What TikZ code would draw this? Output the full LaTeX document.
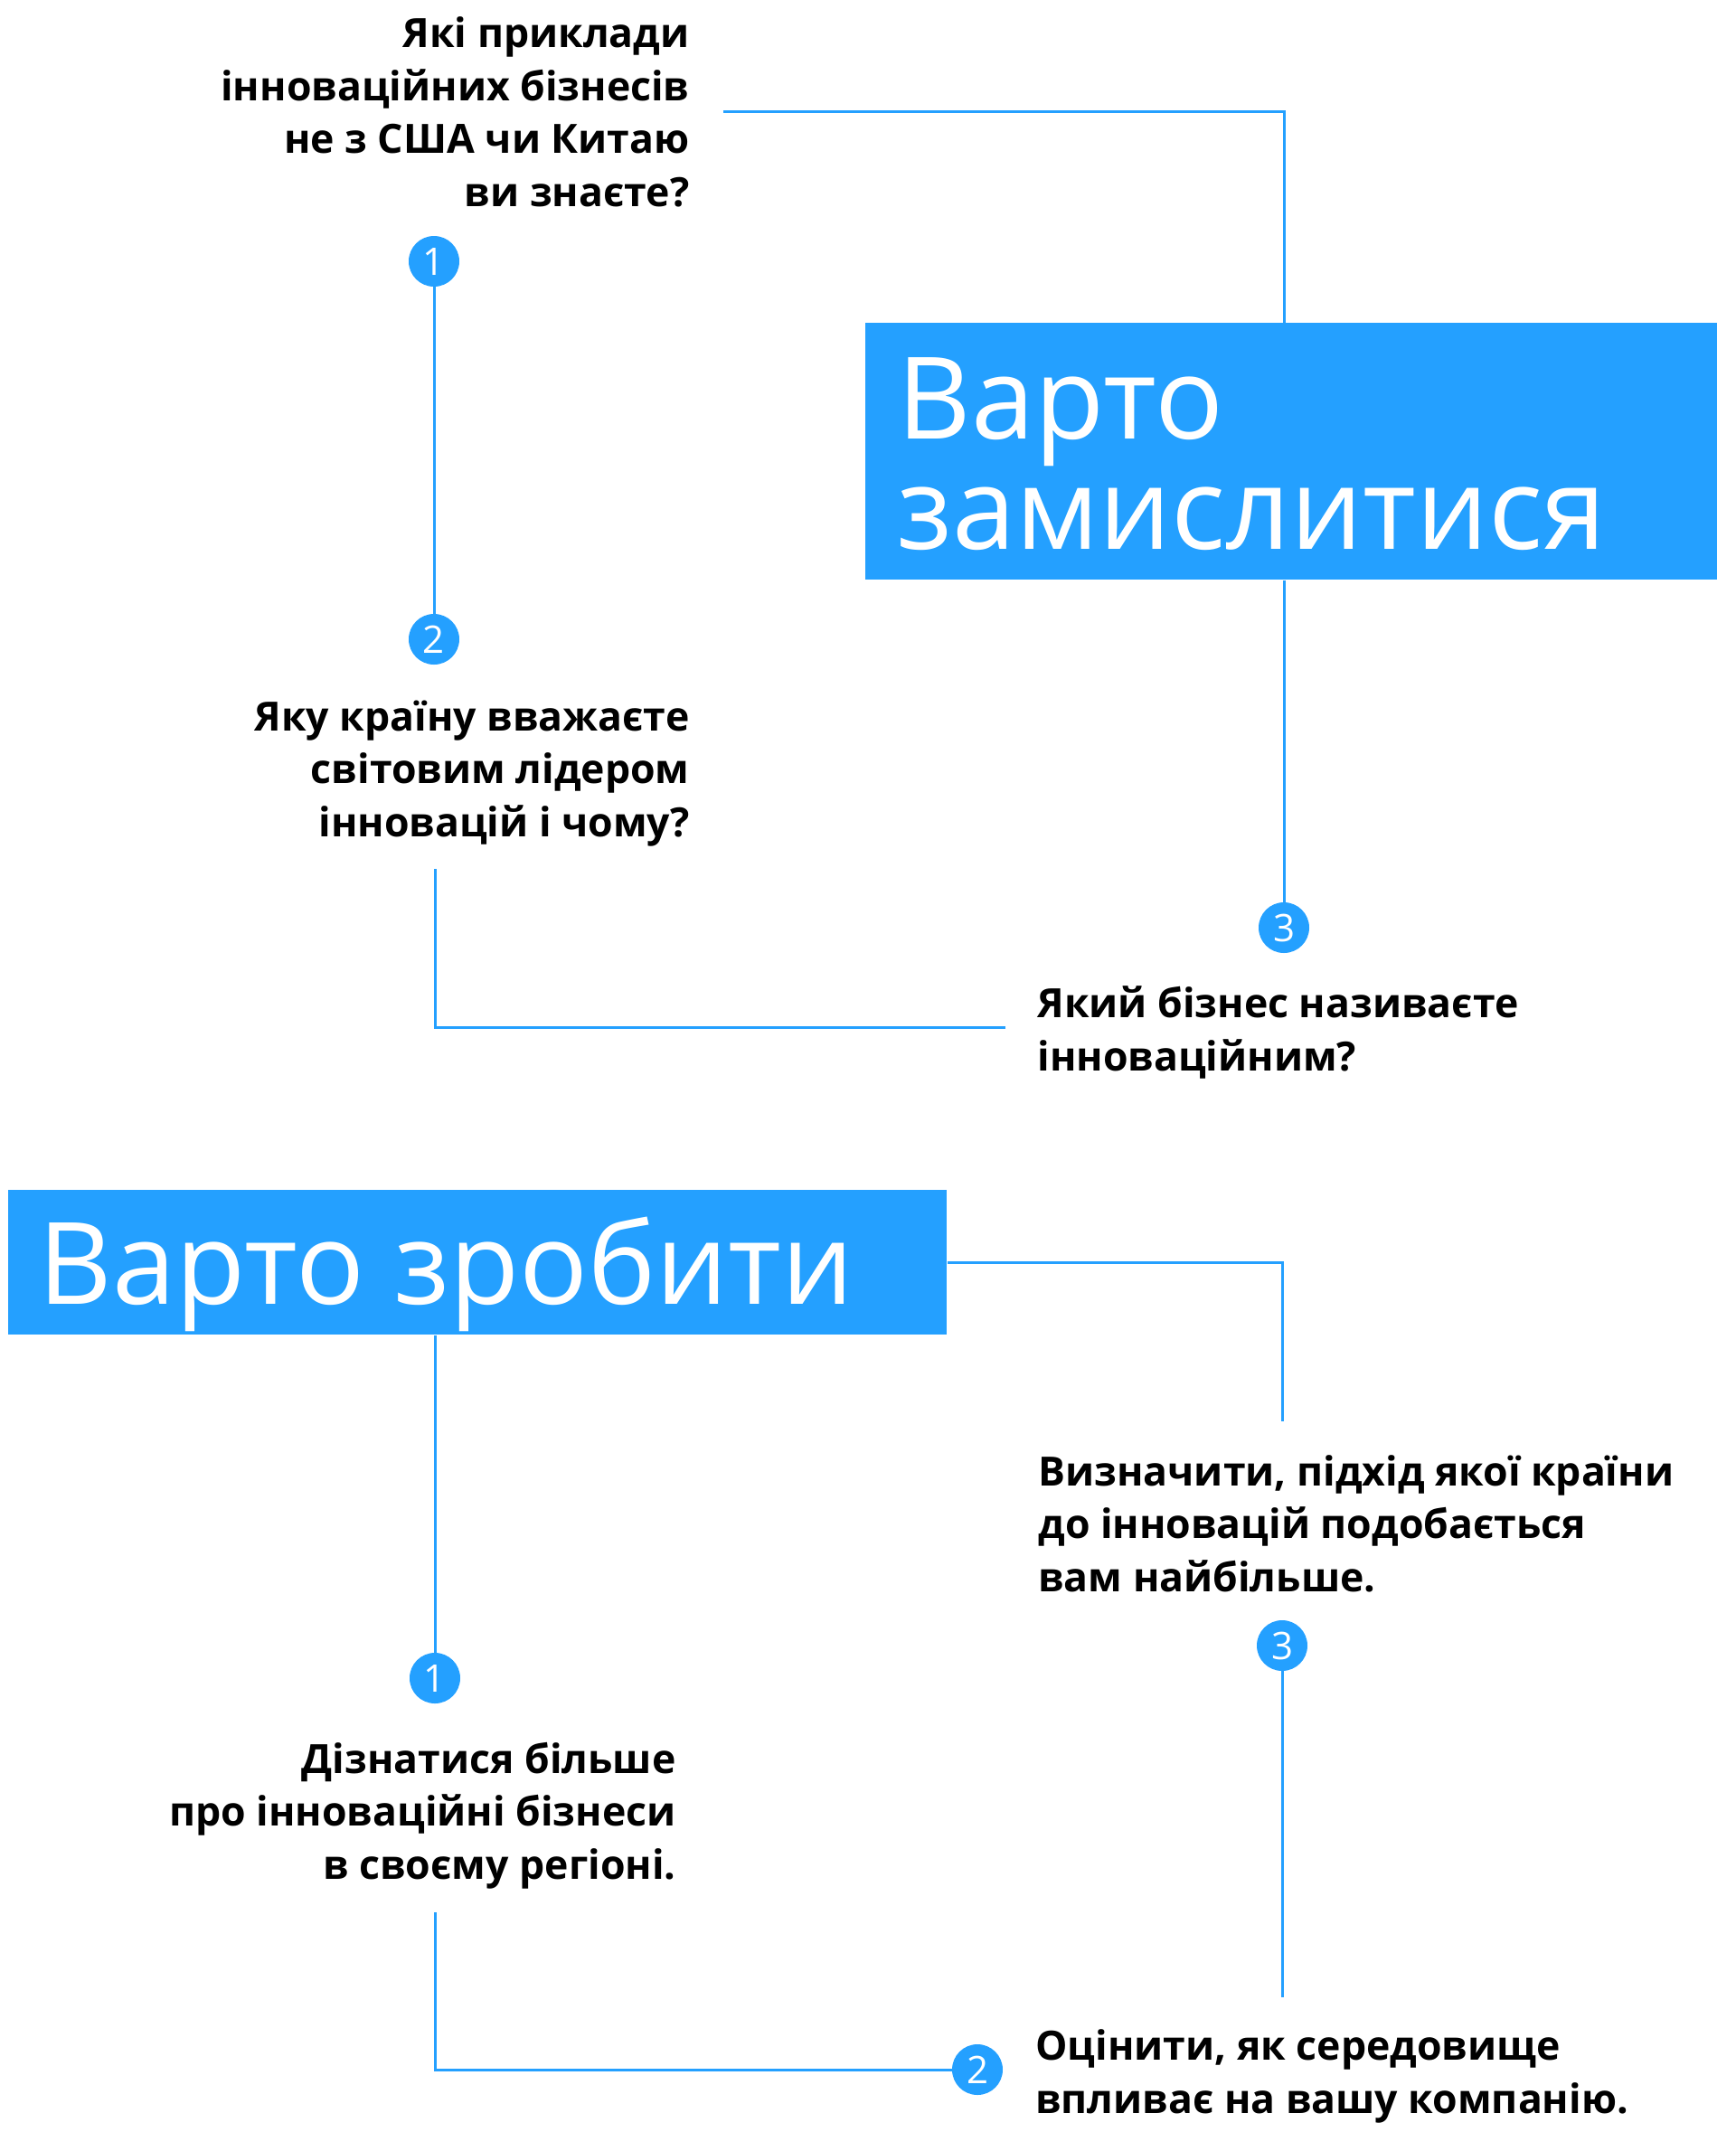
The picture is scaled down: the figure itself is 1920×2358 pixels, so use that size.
\documentclass[tikz,border=0pt]{standalone}
\usepackage{fontspec}
\newfontfamily\bodyfont{Open Sans}
\newfontfamily\titlefont{Open Sans}
\definecolor{myblue}{RGB}{36,160,255}
\begin{document}
\begin{tikzpicture}[x=0.5pt,y=-0.5pt,
  conn/.style={draw=myblue,line width=1.5pt},
  numc/.style={circle,fill=myblue,minimum size=28pt,inner sep=0pt,text=white,font=\titlefont\fontsize{21}{21}\selectfont},
  qleft/.style={inner sep=0pt,anchor=base west,align=left,font=\bodyfont\bfseries\fontsize{22.3}{29.25}\selectfont},
  qright/.style={inner sep=0pt,anchor=base east,align=right,font=\bodyfont\bfseries\fontsize{22.3}{29.25}\selectfont},
  titlebox/.style={fill=myblue,inner sep=0pt,anchor=north west},
  ttext/.style={text=white,inner sep=0pt,anchor=base west,align=left,font=\titlefont\fontsize{63}{61}\selectfont}]
\useasboundingbox[fill=white] (0,0) rectangle (1920,2358);

% top section (base anchors refer to the last line of each text)
\node[titlebox,minimum width=471pt,minimum height=142pt] (box1) at (957,357) {};
\node[ttext] (title1) at (992,607) {Варто\\замислитися};
\node[qright] (q1) at (763,228) {Які приклади\\інноваційних бізнесів\\не з США чи Китаю\\ви знаєте?};
\node[qright] (q2) at (763,925) {Яку країну вважаєте\\світовим лідером\\інновацій і чому?};
\node[qleft] (q3) at (1147,1184) {Який бізнес називаєте\\інноваційним?};
\node[numc] (n1a) at (480,289) {1};
\node[numc] (n2a) at (480,707) {2};
\node[numc] (n3a) at (1420,1026) {3};
\coordinate (c1s) at (800,123);
\coordinate (c2s) at (481,961);
\coordinate (c2e) at (1112,1136);

\draw[conn] (c1s) -| (box1.north -| n3a);
\draw[conn] (box1.south -| n3a) -- (n3a);
\draw[conn] (n1a) -- (n2a);
\draw[conn] (c2s) |- (c2e);

% bottom section
\node[titlebox,minimum width=519pt,minimum height=80pt] (box2) at (9,1316) {};
\node[ttext] (title2) at (42,1442) {Варто зробити};
\node[qleft] (q4) at (1148,1760) {Визначити, підхід якої країни\\до інновацій подобається\\вам найбільше.};
\node[qright] (q5) at (748,2078) {Дізнатися більше\\про інноваційні бізнеси\\в своєму регіоні.};
\node[qleft] (q6) at (1145,2337) {Оцінити, як середовище\\впливає на вашу компанію.};
\node[numc] (n1b) at (481,1856) {1};
\node[numc] (n3b) at (1418,1820) {3};
\node[numc] (n2b) at (1081,2289) {2};
\coordinate (c4e) at (1418,1572);
\coordinate (c5s) at (481,2115);
\coordinate (c6e) at (1418,2209);

\draw[conn] (box2.east) -| (c4e);
\draw[conn] (box2.south -| n1b) -- (n1b);
\draw[conn] (c5s) |- (n2b);
\draw[conn] (n3b) -- (c6e);
\end{tikzpicture}
\end{document}
